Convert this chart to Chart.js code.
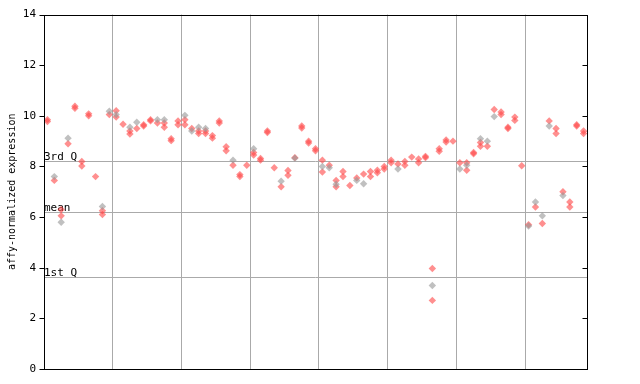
<!DOCTYPE html>
<html>
<head>
<meta charset="utf-8">
<script src="https://cdn.jsdelivr.net/npm/chart.js@4.4.1/dist/chart.umd.min.js"></script>
<style>
  html, body { margin: 0; padding: 0; background: #ffffff; }
  #wrap { width: 640px; height: 384px; }
</style>
</head>
<body>
<div id="wrap"><canvas id="ExpressionChart"></canvas></div>
<script>
// one entry per sample column
const redValues = [
    [9.85, 9.78], [7.45], [6.3, 6.05], [8.9], [10.38, 10.3], [8.2, 8.02], [10.08, 10.0], [7.6], [6.25, 6.1], [10.05],
    [10.2, 9.95], [9.67], [9.4, 9.28], [9.5], [9.65, 9.6], [9.85, 9.8], [9.72], [9.72, 9.55], [9.1, 9.02], [9.8, 9.65],
    [9.85, 9.65], [9.5], [9.4, 9.3], [9.4, 9.3], [9.22, 9.12], [9.8, 9.72], [8.78, 8.62], [8.05], [7.68, 7.6], [8.05],
    [8.55, 8.45], [8.32, 8.25], [9.4, 9.34], [7.95], [7.2], [7.84, 7.65], [8.35], [9.6, 9.52], [9.0, 8.93], [8.7, 8.62],
    [8.25, 7.78], [8.05], [7.45, 7.2], [7.8, 7.6], [7.25], [7.55], [7.7], [7.8, 7.6], [7.85, 7.75], [8.0, 7.9],
    [8.25, 8.15], [8.1], [8.2, 8.05], [8.37], [8.3, 8.15], [8.4, 8.35], [3.97, 2.71], [8.7, 8.6], [9.05, 8.97], [9.0],
    [8.15], [8.15, 7.85], [8.55, 8.5], [8.95, 8.8], [8.8], [10.25], [10.15, 10.05], [9.55, 9.5], [9.95, 9.82], [8.03],
    [5.7], [6.4], [5.75], [9.8], [9.5, 9.3], [7.0], [6.6, 6.4], [9.65, 9.6], [9.4, 9.3]
];

const greyValues = [
    [], [7.6], [5.8], [9.12], [], [], [], [], [6.42], [10.18],
    [10.05], [], [9.55], [9.75], [], [], [9.85], [9.85], [], [],
    [10.02], [9.4], [9.55], [9.5], [], [], [], [8.25], [], [],
    [8.7], [], [], [], [7.42], [], [8.33], [], [], [],
    [8.0], [7.95], [7.3], [], [], [7.45], [7.32], [], [], [],
    [], [7.9], [], [], [], [], [3.3], [], [], [],
    [7.9], [8.05], [], [9.1], [9.0], [9.97], [], [], [], [],
    [5.65], [6.6], [6.05], [9.6], [], [6.85], [], [], []
];

const yTicks = [0, 2, 4, 6, 8, 10, 12, 14];
const groupLines = [10, 20, 30, 40, 50, 60, 70];
const quartileNames = ["3rd Q", "mean", "1st Q"];
const quartileValues = [8.23, 6.21, 3.62];

const monoFont = "'DejaVu Sans Mono', monospace";

function buildPoints(columns) {
    let points = [];
    for (var i = 0; i < columns.length; i++) {
        for (var ii = 0; ii < columns[i].length; ii++) {
            points.push({ x: i + 0.5, y: columns[i][ii] });
        }
    }
    return points;
}

// frame, tick marks and the quartile lines, placed with the chart's own scales
const frameAndQuartiles = {
    id: 'frameAndQuartiles',
    beforeDatasetsDraw: function (chart) {
        let ctx = chart.ctx;
        let area = chart.chartArea;
        let yScale = chart.scales.y;
        ctx.save();
        ctx.strokeStyle = '#aaaaaa';
        ctx.lineWidth = 1;
        ctx.fillStyle = '#000000';
        ctx.font = "11px " + monoFont;
        ctx.textBaseline = 'bottom';
        ctx.textAlign = 'left';
        for (var i = 0; i < quartileValues.length; i++) {
            let py = Math.round(yScale.getPixelForValue(quartileValues[i])) + 0.5;
            ctx.beginPath();
            ctx.moveTo(area.left, py);
            ctx.lineTo(area.right, py);
            ctx.stroke();
            ctx.fillText(quartileNames[i], area.left, py + 1);
        }
        ctx.restore();
    },
    afterDraw: function (chart) {
        let ctx = chart.ctx;
        let area = chart.chartArea;
        let yScale = chart.scales.y;
        ctx.save();
        ctx.strokeStyle = '#000000';
        ctx.lineWidth = 1;
        let l = Math.round(area.left) + 0.5;
        let r = Math.round(area.right) + 0.5;
        let t = Math.round(area.top) + 0.5;
        let b = Math.round(area.bottom) + 0.5;
        ctx.strokeRect(l, t, r - l, b - t);
        for (var i = 0; i < yTicks.length; i++) {
            let py = Math.round(yScale.getPixelForValue(yTicks[i])) + 0.5;
            ctx.beginPath();
            ctx.moveTo(l - 5, py);
            ctx.lineTo(l, py);
            ctx.moveTo(r, py);
            ctx.lineTo(r - 5, py);
            ctx.stroke();
        }
        ctx.restore();
    }
};

const config = {
    type: 'scatter',
    data: {
        datasets: [{
            label: 'grey',
            data: buildPoints(greyValues),
            pointStyle: 'rectRot',
            pointRadius: 3.7,
            pointBorderWidth: 0,
            backgroundColor: 'rgba(150, 150, 150, 0.6)',
            borderColor: 'rgba(0, 0, 0, 0)'
        }, {
            label: 'red',
            data: buildPoints(redValues),
            pointStyle: 'rectRot',
            pointRadius: 3.7,
            pointBorderWidth: 0,
            backgroundColor: 'rgba(255, 75, 75, 0.62)',
            borderColor: 'rgba(0, 0, 0, 0)'
        }]
    },
    options: {
        responsive: true,
        maintainAspectRatio: false,
        animation: false,
        layout: {
            padding: { left: 0, right: 53, top: 13, bottom: 15 }
        },
        plugins: {
            legend: { display: false },
            tooltip: { enabled: false }
        },
        scales: {
            x: {
                type: 'linear',
                min: 0,
                max: redValues.length,
                afterBuildTicks: function (scale) {
                    scale.ticks = groupLines.map(function (v) { return { value: v }; });
                },
                afterFit: function (scale) {
                    scale.height = 0;
                },
                ticks: { display: false },
                border: { display: false },
                grid: {
                    color: '#aaaaaa',
                    lineWidth: 1,
                    drawTicks: false
                }
            },
            y: {
                min: 0,
                max: 14,
                afterBuildTicks: function (scale) {
                    scale.ticks = yTicks.map(function (v) { return { value: v }; });
                },
                afterFit: function (scale) {
                    scale.width = 44;
                },
                border: { display: false },
                grid: { display: false, drawTicks: false },
                ticks: {
                    color: '#000000',
                    padding: 8,
                    font: { family: monoFont, size: 11 }
                },
                title: {
                    display: true,
                    text: 'affy-normalized expression',
                    color: '#000000',
                    padding: { top: 6, bottom: 0 },
                    font: { family: monoFont, size: 10 }
                }
            }
        }
    },
    plugins: [frameAndQuartiles]
};

let myChart = new Chart(document.getElementById("ExpressionChart"), config);
</script>
</body>
</html>
